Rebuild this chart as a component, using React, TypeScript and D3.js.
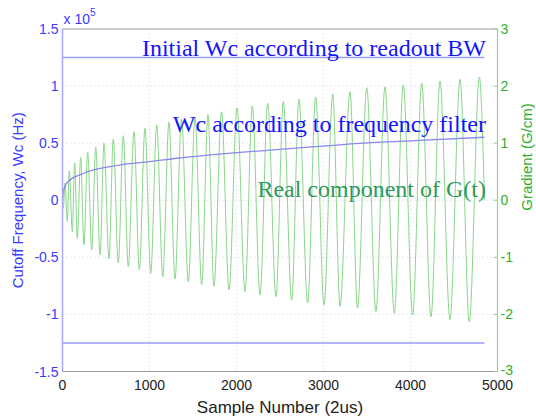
import React, { useRef, useEffect } from 'react';
import * as d3 from 'd3';

// extrema of the real part of G(t): [sample, G/cm]
const gradPeaks: [number, number][] = [
  [29, 0.30], [78, 0.51], [140, 0.65], [209, 0.75], [290, 0.84], [382, 0.93],
  [477, 1.00], [584, 1.07], [699, 1.13], [822, 1.20], [948, 1.26], [1083, 1.32],
  [1224, 1.37], [1368, 1.42], [1523, 1.46], [1672, 1.50], [1828, 1.55], [2006, 1.62],
  [2182, 1.65], [2359, 1.70], [2538, 1.73], [2718, 1.77], [2910, 1.81], [3106, 1.86],
  [3305, 1.90], [3497, 1.97], [3707, 1.99], [3917, 2.02], [4129, 2.05], [4339, 2.09],
  [4569, 2.12], [4791, 2.16]
];
const gradTroughs: [number, number][] = [
  [10, -0.14], [55, -0.37], [113, -0.55], [170, -0.67], [247, -0.78], [336, -0.87],
  [431, -0.96], [534, -1.03], [641, -1.10], [756, -1.16], [883, -1.22], [1014, -1.28],
  [1152, -1.34], [1293, -1.38], [1446, -1.43], [1600, -1.48], [1741, -1.51], [1914, -1.57],
  [2098, -1.60], [2270, -1.66], [2454, -1.69], [2634, -1.75], [2818, -1.80], [3006, -1.83],
  [3190, -1.86], [3391, -1.89], [3603, -1.95], [3814, -1.98], [4025, -2.01], [4236, -2.04],
  [4454, -2.09], [4676, -2.13]
];
const gradEnds: [number, number][] = [[0, 0], [4850, 0]];

// Wc from the frequency filter [sample, Hz]
const wcFilter: [number, number][] = [
  [0, 0], [9, 7500], [30, 12500], [86, 17800], [201, 22200], [354, 26500], [546, 29400],
  [738, 31800], [998, 33800], [1313, 36800], [1695, 39700], [2040, 42000], [2500, 44500],
  [3420, 49900], [4109, 52400], [4850, 55200]
];
const wcInitial = 125000;
const wcExtent = [0, 4850];

const xTicks = [0, 1000, 2000, 3000, 4000, 5000];
const leftTicks = [-1.5, -1, -0.5, 0, 0.5, 1, 1.5];
const rightTicks = [-3, -2, -1, 0, 1, 2, 3];

const App = () => {
  const ref = useRef<SVGSVGElement>(null);

  useEffect(() => {
    const width = 536;
    const height = 418;
    const m = { top: 29, right: 38.5, bottom: 46.5, left: 62.5 };
    const sans = '"Liberation Sans", Arial, sans-serif';
    const serif = '"Liberation Serif", "Times New Roman", serif';

    const svg = d3.select(ref.current).attr('width', width).attr('height', height);
    svg.selectAll('*').remove();

    const x = d3.scaleLinear().domain([0, 5000]).range([m.left, width - m.right]);
    const yL = d3.scaleLinear().domain([-1.5e5, 1.5e5]).range([height - m.bottom, m.top]);
    const yR = d3.scaleLinear().domain([-3, 3]).range([height - m.bottom, m.top]);

    svg.append('rect').attr('width', width).attr('height', height).attr('fill', '#fff');

    // grid
    svg.append('g').selectAll('line').data(xTicks.slice(1, -1)).enter().append('line')
      .attr('x1', d => x(d)).attr('x2', d => x(d))
      .attr('y1', m.top).attr('y2', height - m.bottom)
      .attr('stroke', '#c8c8c8').attr('stroke-width', 0.8).attr('stroke-dasharray', '1,3');
    svg.append('g').selectAll('line').data(leftTicks.slice(1, -1)).enter().append('line')
      .attr('x1', m.left).attr('x2', width - m.right)
      .attr('y1', d => yL(d * 1e5)).attr('y2', d => yL(d * 1e5))
      .attr('stroke', '#c0c8f0').attr('stroke-width', 0.8).attr('stroke-dasharray', '1,3');

    // frame
    svg.append('line').attr('x1', m.left).attr('x2', width - m.right)
      .attr('y1', m.top).attr('y2', m.top).attr('stroke', '#999');
    svg.append('line').attr('x1', m.left).attr('x2', width - m.right)
      .attr('y1', height - m.bottom).attr('y2', height - m.bottom).attr('stroke', '#999');

    // green gradient signal through its extrema
    const gradPts = [...gradEnds, ...gradPeaks, ...gradTroughs].sort((a, b) => a[0] - b[0]);
    const gLine = d3.line<[number, number]>()
      .x(d => x(d[0])).y(d => yR(d[1]))
      .curve(d3.curveMonotoneX);
    svg.append('path').attr('d', gLine(gradPts))
      .attr('fill', 'none').attr('stroke', '#8ad68a').attr('stroke-width', 1);

    // Wc lines
    const wLine = d3.line<[number, number]>()
      .x(d => x(d[0])).y(d => yL(d[1]))
      .curve(d3.curveMonotoneX);
    svg.append('path').attr('d', wLine(wcFilter))
      .attr('fill', 'none').attr('stroke', '#8888ee').attr('stroke-width', 1.3);
    [wcInitial, -wcInitial].forEach(v => {
      svg.append('line')
        .attr('x1', x(wcExtent[0])).attr('x2', x(wcExtent[1]))
        .attr('y1', yL(v)).attr('y2', yL(v))
        .attr('stroke', '#9a9af2').attr('stroke-width', 1.5);
    });

    // left axis
    svg.append('line').attr('x1', m.left).attr('x2', m.left)
      .attr('y1', m.top).attr('y2', height - m.bottom).attr('stroke', '#a8a8ff').attr('stroke-width', 1.5);
    svg.append('g').selectAll('text').data(leftTicks).enter().append('text')
      .attr('x', m.left - 4).attr('y', d => yL(d * 1e5) + 5)
      .attr('text-anchor', 'end').attr('font-family', sans).attr('font-size', 14)
      .attr('fill', '#3a3aff').text(d => String(d));
    const mult = svg.append('text').attr('x', m.left + 1).attr('y', 24)
      .attr('font-family', sans).attr('font-size', 14).attr('fill', '#3a3aff');
    mult.append('tspan').text('x 10');
    mult.append('tspan').attr('dy', -8).attr('font-size', 10).text('5');
    svg.append('text')
      .attr('transform', `translate(23,${(m.top + height - m.bottom) / 2}) rotate(-90)`)
      .attr('text-anchor', 'middle').attr('font-family', sans).attr('font-size', 15)
      .attr('fill', '#3a3aff').text('Cutoff Frequency, Wc (Hz)');

    // right axis
    const xr = width - m.right;
    svg.append('line').attr('x1', xr).attr('x2', xr)
      .attr('y1', m.top).attr('y2', height - m.bottom).attr('stroke', '#8fd88f').attr('stroke-width', 1.2);
    svg.append('g').selectAll('line').data(rightTicks).enter().append('line')
      .attr('x1', xr - 4).attr('x2', xr).attr('y1', d => yR(d)).attr('y2', d => yR(d))
      .attr('stroke', '#8fd88f');
    svg.append('g').selectAll('text').data(rightTicks).enter().append('text')
      .attr('x', xr + 3).attr('y', d => yR(d) + (d === -3 ? 3 : 5))
      .attr('font-family', sans).attr('font-size', 14)
      .attr('fill', '#2eb02e').text(d => String(d));
    svg.append('text')
      .attr('transform', `translate(532,157) rotate(-90)`)
      .attr('text-anchor', 'middle').attr('font-family', sans).attr('font-size', 15)
      .attr('fill', '#2eb02e').text('Gradient (G/cm)');

    // bottom axis
    svg.append('g').selectAll('text').data(xTicks).enter().append('text')
      .attr('x', d => x(d)).attr('y', height - m.bottom + 18)
      .attr('text-anchor', 'middle').attr('font-family', sans).attr('font-size', 14)
      .attr('fill', '#222').text(d => String(d));
    svg.append('text')
      .attr('x', (m.left + width - m.right) / 2).attr('y', 413)
      .attr('text-anchor', 'middle').attr('font-family', sans).attr('font-size', 17)
      .attr('fill', '#222').text('Sample Number (2us)');

    // annotations
    const notes = [
      { t: 'Initial Wc according to readout BW', v: 55.5, c: '#1414ff' },
      { t: 'Wc according to frequency filter', v: 132, c: '#1414ff' },
      { t: 'Real component of G(t)', v: 197, c: '#2e9a5c' }
    ];
    svg.append('g').selectAll('text').data(notes).enter().append('text')
      .attr('x', 486).attr('y', d => d.v).attr('text-anchor', 'end')
      .attr('font-family', serif).attr('font-size', 24)
      .attr('fill', d => d.c).text(d => d.t);
  }, []);

  return <svg ref={ref} style={{ position: 'absolute', left: 0, top: 0 }} />;
};

export default App;
